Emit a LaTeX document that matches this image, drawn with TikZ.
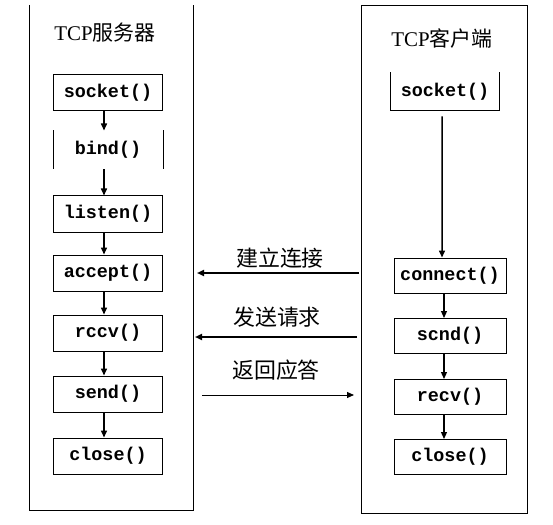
\documentclass[tikz,border=0pt]{standalone}
\usepackage{fontspec}
\setmainfont{Liberation Serif}
\setmonofont{Liberation Mono}
\newfontfamily\cjk{Noto Sans CJK SC}
\usetikzlibrary{arrows.meta}
\begin{document}
\begin{tikzpicture}[
x=1bp,y=-1bp,
callbox/.style={
  draw,
  line width=1bp,
  minimum width=109bp,
  minimum height=36bp,
  inner sep=0pt,
  font=\fontsize{18.5}{18.5}\selectfont\ttfamily\bfseries
  },
lanetitle/.style={font=\fontsize{21}{21}\selectfont},
msglabel/.style={font=\fontsize{22}{22}\selectfont\cjk},
flowarrow/.style={-{Triangle[length=7bp,width=6bp]},line width=1.5bp},
msgarrow/.style={-{Triangle[length=7bp,width=6bp]},line width=2bp}
]
\useasboundingbox (0,0) rectangle (553,525);
% lanes
\draw[line width=1bp] (29,5) -- (29,510) -- (193,510) -- (193,5);
\draw[line width=1bp] (361,6) rectangle (527,513);
\node[lanetitle] (stitle) at (105,33) {TCP{\cjk 服务器}};
\node[lanetitle] (ctitle) at (442,39) {TCP{\cjk 客户端}};
% server side
\foreach \Name/\Text/\Y in {ssock/socket()/93,slisten/listen()/214,saccept/accept()/273,
  srecv/rccv()/333,ssend/send()/394,sclose/close()/456}
  \node[callbox] (\Name) at (108,\Y) {\Text};
\node[callbox,draw=none,minimum height=38bp] (sbind) at (108,150) {bind()};
\draw[line width=1bp] (sbind.north west) -- (sbind.south west)
  (sbind.north east) -- (sbind.south east);
\foreach \A/\B in {ssock/sbind,sbind/slisten,slisten/saccept,saccept/srecv,srecv/ssend,ssend/sclose}
  \draw[flowarrow] ([xshift=-4bp]\A.south) -- ([xshift=-4bp]\B.north);
% client side
\node[callbox,draw=none,minimum width=108bp,minimum height=37bp] (csock) at (445,91.5) {socket()};
\draw[line width=1bp] (csock.north west) -- (csock.south west) -- (csock.south east) -- (csock.north east);
\foreach \Name/\Text/\Y in {cconn/connect()/275.5,csend/scnd()/336,crecv/recv()/397,cclose/close()/457}
  \node[callbox,minimum width=112bp,minimum height=35bp] (\Name) at (450,\Y) {\Text};
\draw[flowarrow] ([xshift=-3bp,yshift=-6bp]csock.south) -- ([xshift=-8bp]cconn.north);
\foreach \A/\B in {cconn/csend,csend/crecv,crecv/cclose}
  \draw[flowarrow,line width=1.2bp] ([xshift=-6bp]\A.south) -- ([xshift=-6bp]\B.north);
% messages
\coordinate (m1from) at (359,273);
\coordinate (m1to) at (197,273);
\coordinate (m2from) at (357,337);
\coordinate (m2to) at (195,337);
\coordinate (m3from) at (202,395);
\coordinate (m3to) at (354,395);
\draw[msgarrow] (m1from) -- (m1to);
\draw[msgarrow] (m2from) -- (m2to);
\draw[-{Triangle[length=7bp,width=6bp]},line width=1bp] (m3from) -- (m3to);
\node[msglabel] (m1) at (280,258) {建立连接};
\node[msglabel] (m2) at (277,317) {发送请求};
\node[msglabel] (m3) at (276,370) {返回应答};
\end{tikzpicture}
\end{document}
